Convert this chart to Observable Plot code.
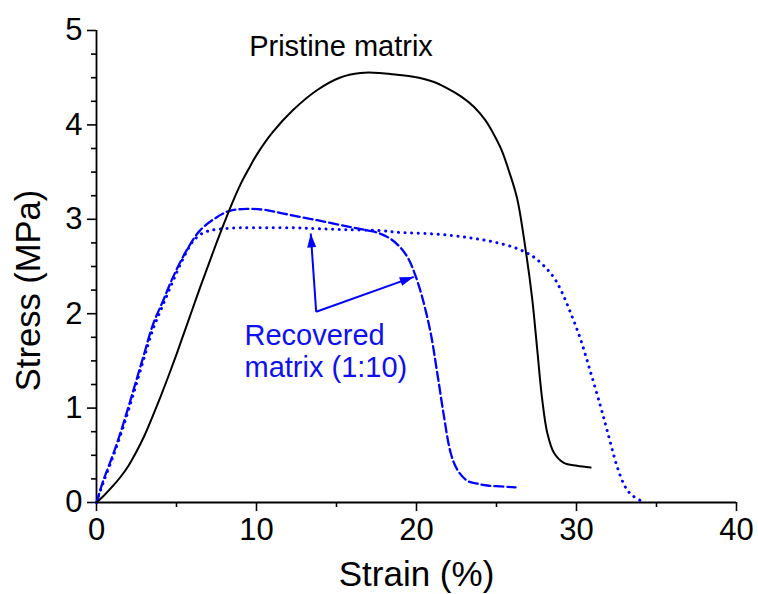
<!DOCTYPE html>
<html>
<head>
<meta charset="utf-8">
<script src="https://cdn.jsdelivr.net/npm/d3@7"></script>
<script src="https://cdn.jsdelivr.net/npm/@observablehq/plot@0.6"></script>
<style>
  html, body { margin: 0; padding: 0; background: #fff; }
</style>
</head>
<body>
<div id="chart"></div>
<script>
// ---- Data ----
const pristineStrain = [0, 0.5, 1.0, 1.5, 2.0, 2.5, 3.0, 3.5, 4.0, 4.5, 5.0, 5.5, 6.0, 6.5, 7.0, 7.5, 8.0, 8.5, 9.0, 9.5, 10.0, 11.0, 12.3, 13.8, 15.2, 16.5, 17.7, 18.8, 19.8, 21.0, 21.9, 22.8, 23.6, 24.3, 24.8, 25.3, 25.8, 26.29, 26.81, 27.23, 27.54, 27.85, 28.17, 28.58, 29.21, 30.04, 30.88];
const pristineStress = [0, 0.08, 0.17, 0.27, 0.39, 0.54, 0.71, 0.91, 1.12, 1.34, 1.57, 1.81, 2.05, 2.29, 2.52, 2.75, 2.97, 3.18, 3.37, 3.53, 3.68, 3.92, 4.16, 4.37, 4.50, 4.55, 4.55, 4.53, 4.51, 4.46, 4.39, 4.30, 4.19, 4.05, 3.91, 3.74, 3.50, 3.22, 2.69, 2.16, 1.63, 1.10, 0.74, 0.53, 0.42, 0.39, 0.37];

const recoveredAStrain = [0, 0.42, 1.04, 1.67, 2.29, 2.92, 3.54, 4.17, 4.79, 5.63, 6.46, 7.5, 8.33, 9.38, 10.5, 11.7, 13.8, 15.8, 17.0, 17.7, 18.4, 19.0, 19.5, 19.9, 20.35, 20.88, 21.29, 21.71, 22.13, 22.54, 23.17, 23.8, 24.42, 25.3, 26.19];
const recoveredAStress = [0, 0.23, 0.51, 0.83, 1.18, 1.54, 1.89, 2.14, 2.39, 2.67, 2.88, 3.02, 3.09, 3.11, 3.10, 3.06, 2.99, 2.92, 2.88, 2.85, 2.79, 2.70, 2.58, 2.42, 2.18, 1.80, 1.38, 0.92, 0.53, 0.35, 0.23, 0.20, 0.18, 0.17, 0.16];

const recoveredBStrain = [0, 0.42, 1.04, 1.67, 2.29, 2.92, 3.54, 4.17, 4.79, 5.4, 6.0, 6.5, 7.08, 7.9, 9.0, 10.65, 12.5, 13.8, 15.5, 17.7, 19.0, 20.5, 22.13, 23.5, 24.83, 26.29, 27.33, 28.17, 28.6, 29.0, 29.63, 30.25, 30.88, 31.5, 31.92, 32.54, 33.0, 33.38, 34.0, 34.3];
const recoveredBStress = [0, 0.21, 0.49, 0.80, 1.14, 1.50, 1.84, 2.10, 2.35, 2.58, 2.76, 2.84, 2.88, 2.90, 2.91, 2.91, 2.91, 2.90, 2.89, 2.88, 2.86, 2.85, 2.83, 2.80, 2.76, 2.69, 2.60, 2.47, 2.38, 2.26, 2.01, 1.73, 1.38, 1.02, 0.76, 0.38, 0.18, 0.09, 0.02, 0.0];

const xMajorTicks = [0, 10, 20, 30, 40];
const xMinorTicks = [5, 15, 25, 35];
const yMajorTicks = [0, 1, 2, 3, 4, 5];
const yMinorTicks = d3.range(0, 5.001, 0.25).filter(v => Math.abs(v - Math.round(v)) > 1e-6);

const labelTexts = ["Pristine matrix", "Recovered", "matrix (1:10)"];
const labelX = [15.28, 9.25, 9.25];
const labelY = [4.83, 1.77, 1.43];

const arrowFromX = [13.73, 13.73];
const arrowFromY = [2.02, 2.02];
const arrowToX = [13.39, 19.83];
const arrowToY = [2.85, 2.39];

const xTitle = "Strain (%)";
const yTitle = "Stress (MPa)";

// ---- Layout ----
const W = 758, H = 594;
const mL = 96, mR = 22, mT = 30, mB = 92;
const FONT = "'Liberation Sans', Arial, Helvetica, sans-serif";
const BLUE = "#0000ff";
const TEXTBLUE = "#1010ee";

const rows = (xs, ys) => xs.map((x, i) => ({x, y: ys[i]}));
const pristine = rows(pristineStrain, pristineStress);
const recA = rows(recoveredAStrain, recoveredAStress);
const recB = rows(recoveredBStrain, recoveredBStress);
const labels = labelTexts.map((t, i) => ({t, x: labelX[i], y: labelY[i]}));

const xDomain = [0, 40], yDomain = [0, 5];
const sx = Plot.scale({x: {domain: xDomain, range: [mL, W - mR]}});
const sy = Plot.scale({y: {domain: yDomain, range: [H - mB, mT]}});
const arrows = arrowToX.map((x2, i) => {
  const x1 = arrowFromX[i], y1 = arrowFromY[i], y2 = arrowToY[i];
  const dx = sx.apply(x2) - sx.apply(x1), dy = sy.apply(y2) - sy.apply(y1);
  const ang = Math.atan2(dy, dx) * 180 / Math.PI;
  return {x1, y1, x2, y2, rot: ang + 90};
});

const headSymbol = {
  draw(ctx) {
    ctx.moveTo(0, 0);
    ctx.lineTo(-4.5, 14);
    ctx.lineTo(4.5, 14);
    ctx.closePath();
  }
};

const intFmt = d3.format("d");

const chart = Plot.plot({
  width: W,
  height: H,
  marginLeft: mL,
  marginRight: mR,
  marginTop: mT,
  marginBottom: mB,
  style: {fontFamily: FONT, background: "#fff", color: "#000", overflow: "visible"},
  x: {domain: xDomain, label: null},
  y: {domain: yDomain, label: null},
  marks: [
    Plot.axisX({ticks: xMinorTicks, tickSize: 5, tickFormat: () => "", strokeWidth: 1.6, label: null}),
    Plot.axisX({ticks: xMajorTicks, tickSize: 9, tickPadding: 6, tickFormat: intFmt, fontSize: 31, strokeWidth: 1.6, label: null}),
    Plot.axisY({ticks: yMinorTicks, tickSize: 5, tickFormat: () => "", strokeWidth: 1.6, label: null}),
    Plot.axisY({ticks: yMajorTicks, tickSize: 9, tickPadding: 5, tickFormat: intFmt, fontSize: 31, strokeWidth: 1.6, label: null}),
    Plot.ruleX([0], {stroke: "#000", strokeWidth: 1.8}),
    Plot.ruleY([0], {stroke: "#000", strokeWidth: 1.8}),
    Plot.line(recB, {x: "x", y: "y", stroke: BLUE, strokeWidth: 3, strokeDasharray: "0.1,6.5", strokeLinecap: "round", curve: "catmull-rom"}),
    Plot.line(recA, {x: "x", y: "y", stroke: BLUE, strokeWidth: 2.3, strokeDasharray: "9,4", curve: "catmull-rom"}),
    Plot.line(pristine, {x: "x", y: "y", stroke: "#000", strokeWidth: 2, curve: "catmull-rom"}),
    Plot.link(arrows, {x1: "x1", y1: "y1", x2: "x2", y2: "y2", stroke: BLUE, strokeWidth: 2}),
    Plot.dot(arrows, {x: "x2", y: "y2", symbol: headSymbol, rotate: "rot", fill: BLUE, stroke: "none", r: 5}),
    Plot.text(labels.slice(0, 1), {x: "x", y: "y", text: "t", fontSize: 29, fill: "#000"}),
    Plot.text(labels.slice(1), {x: "x", y: "y", text: "t", fontSize: 29, fill: TEXTBLUE, textAnchor: "start"}),
    Plot.text([xTitle], {frameAnchor: "bottom", dy: 72, fontSize: 35, fill: "#000", textAnchor: "middle", lineAnchor: "middle"}),
    Plot.text([yTitle], {frameAnchor: "left", rotate: -90, dx: -68, dy: 24, fontSize: 34.5, fill: "#000", textAnchor: "middle", lineAnchor: "middle"})
  ]
});
document.getElementById("chart").appendChild(chart);
</script>
</body>
</html>
